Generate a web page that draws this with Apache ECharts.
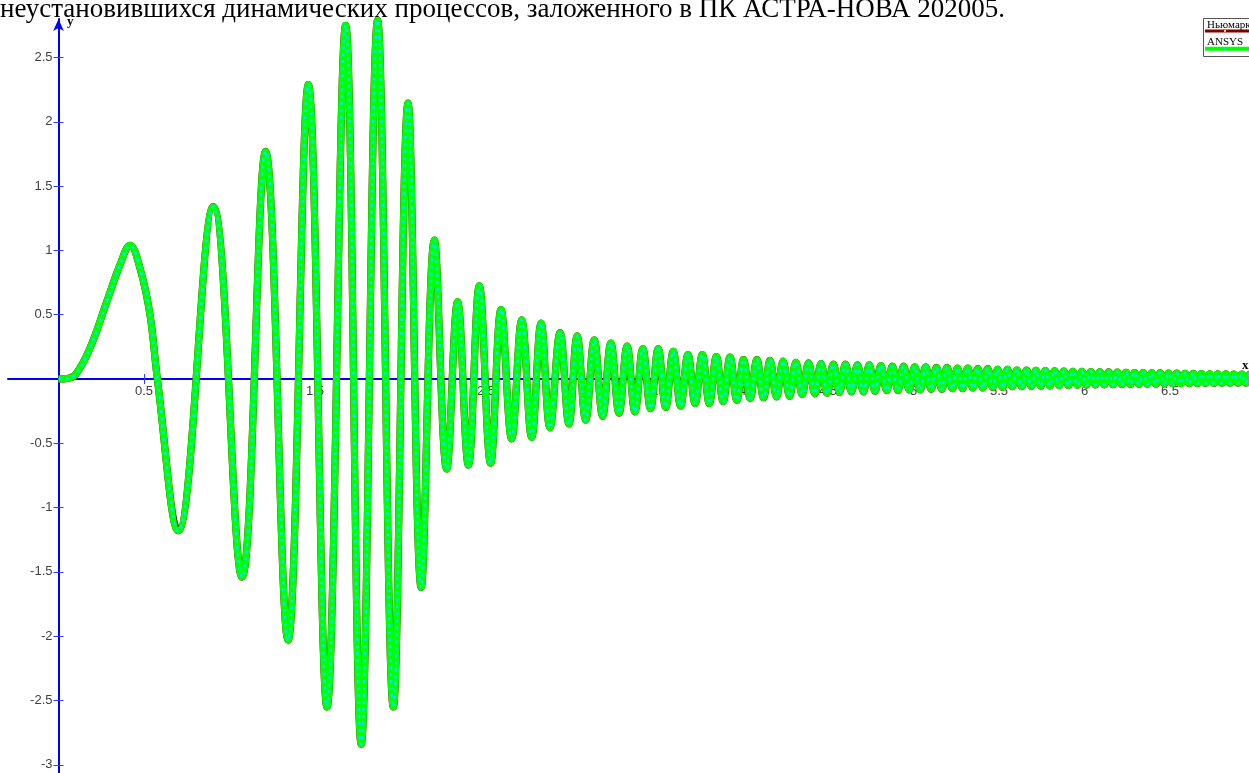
<!DOCTYPE html>
<html>
<head>
<meta charset="utf-8">
<script src="https://cdn.jsdelivr.net/npm/echarts@6/dist/echarts.min.js"></script>
<style>
  html, body { margin: 0; padding: 0; background: #ffffff; }
  #chart { width: 1249px; height: 773px; }
</style>
</head>
<body>
<div id="chart"></div>
<script>
// Time, s
const timeSec = [
  0, 0.05, 0.1, 0.184, 0.282, 0.36, 0.418, 0.477, 0.535, 0.578,
  0.699, 0.905, 1.073, 1.211, 1.342, 1.461, 1.570, 1.679, 1.770, 1.866,
  1.958, 2.044, 2.121, 2.198, 2.270, 2.334, 2.397, 2.461, 2.527, 2.588,
  2.650, 2.709, 2.767, 2.822, 2.874, 2.933, 2.985, 3.033, 3.083, 3.133,
  3.182, 3.230, 3.278, 3.325, 3.371, 3.417, 3.462, 3.507, 3.551, 3.595,
  3.638, 3.681, 3.723, 3.765, 3.806, 3.847, 3.887, 3.927, 3.967, 4.006,
  4.045, 4.084, 4.123, 4.161, 4.199, 4.237, 4.275, 4.312, 4.349, 4.386,
  4.423, 4.459, 4.495, 4.531, 4.567, 4.602, 4.637, 4.672, 4.707, 4.741,
  4.775, 4.809, 4.843, 4.876, 4.909, 4.942, 4.975, 5.007, 5.039, 5.071,
  5.103, 5.134, 5.165, 5.196, 5.227, 5.257, 5.287, 5.317, 5.347, 5.376,
  5.405, 5.434, 5.463, 5.492, 5.521, 5.549, 5.577, 5.605, 5.633, 5.661,
  5.689, 5.716, 5.744, 5.771, 5.798, 5.825, 5.852, 5.879, 5.906, 5.932,
  5.959, 5.985, 6.011, 6.037, 6.063, 6.089, 6.115, 6.141, 6.167, 6.192,
  6.218, 6.243, 6.268, 6.293, 6.318, 6.343, 6.368, 6.393, 6.418, 6.442,
  6.467, 6.491, 6.516, 6.540, 6.564, 6.588, 6.612, 6.636, 6.660, 6.684,
  6.708, 6.732, 6.756, 6.779, 6.803, 6.826, 6.850, 6.873, 6.897, 6.920,
  6.944, 6.967, 6.990
];

// Displacement response (both solvers coincide at this scale)
const displacement = [
  0, 0.004, 0.035, 0.24, 0.6, 0.89, 1.04, 0.86, 0.5, 0,
  -1.18, 1.34, -1.54, 1.77, -2.03, 2.29, -2.55, 2.75, -2.84, 2.79,
  -2.55, 2.145, -1.62, 1.08, -0.70, 0.60, -0.67, 0.725, -0.655, 0.54,
  -0.465, 0.46, -0.455, 0.435, -0.38, 0.36, -0.35, 0.335, -0.32, 0.305,
  -0.29, 0.28, -0.265, 0.255, -0.255, 0.235, -0.23, 0.235, -0.22, 0.215,
  -0.21, 0.19, -0.19, 0.19, -0.19, 0.175, -0.175, 0.17, -0.165, 0.15,
  -0.15, 0.15, -0.145, 0.145, -0.14, 0.14, -0.135, 0.13, -0.12, 0.125,
  -0.115, 0.12, -0.11, 0.115, -0.105, 0.115, -0.10, 0.11, -0.10, 0.11,
  -0.095, 0.105, -0.09, 0.10, -0.09, 0.10, -0.085, 0.095, -0.085, 0.095,
  -0.08, 0.09, -0.08, 0.09, -0.075, 0.085, -0.075, 0.085, -0.07, 0.08,
  -0.07, 0.08, -0.065, 0.075, -0.065, 0.075, -0.06, 0.07, -0.06, 0.07,
  -0.058, 0.068, -0.056, 0.066, -0.054, 0.064, -0.052, 0.062, -0.05, 0.06,
  -0.048, 0.06, -0.047, 0.058, -0.046, 0.056, -0.045, 0.055, -0.044, 0.054,
  -0.043, 0.052, -0.042, 0.05, -0.041, 0.05, -0.04, 0.048, -0.039, 0.047,
  -0.038, 0.046, -0.037, 0.045, -0.036, 0.044, -0.035, 0.043, -0.035, 0.042,
  -0.034, 0.041, -0.034, 0.04, -0.033, 0.04, -0.033, 0.039, -0.032, 0.038,
  -0.032, 0.038, -0.031
];

const xTicks = [0.5, 1, 1.5, 2, 2.5, 3, 3.5, 4, 4.5, 5, 5.5, 6, 6.5];
const yTicks = [-3, -2.5, -2, -1.5, -1, -0.5, 0.5, 1, 1.5, 2, 2.5];
const seriesNames = ['Ньюмарк', 'ANSYS'];
const headerText = 'неустановившихся динамических процессов, заложенного в ПК АСТРА-НОВА 202005.';

const points = timeSec.map((t, i) => [t, displacement[i]]);

const AXIS_BLUE = '#0000ff';
const TICK_BLUE = '#3a3aff';
const labelStyle = { color: '#404040', fontFamily: '"Liberation Sans", Arial, sans-serif', fontSize: 13 };

// plotting window (grid: left 8, top 19, 1244 x 754 px)
const grid = { left: 8, top: 19, width: 1244, height: 754 };
const xRange = { min: -0.2953, max: 6.9795 };
const yRange = { min: -3.0638, max: 2.7994 };

// the axes cross at the origin: shift each axis from its grid edge to the zero line
const toPxX = v => grid.left + (v - xRange.min) / (xRange.max - xRange.min) * grid.width;
const toPxY = v => grid.top + (yRange.max - v) / (yRange.max - yRange.min) * grid.height;
const zeroX = toPxX(0);
const zeroY = toPxY(0);
const offLeft = -(zeroX - grid.left);
const offRight = -(grid.left + grid.width - zeroX);
const offBottom = -(grid.top + grid.height - zeroY);
const offTop = -(zeroY - grid.top);

const chart = echarts.init(document.getElementById('chart'), null, { renderer: 'canvas' });

chart.setOption({
  animation: false,
  backgroundColor: '#ffffff',
  grid: Object.assign({ outerBoundsMode: 'none', containLabel: false }, grid),
  xAxis: [
    {
      type: 'value', position: 'bottom', offset: offBottom, min: xRange.min, max: xRange.max,
      axisLine: { onZero: false, symbol: ['none', 'arrow'], symbolSize: [8, 12],
                  lineStyle: { color: AXIS_BLUE, width: 2 } },
      axisTick: { customValues: xTicks, length: 5, lineStyle: { color: TICK_BLUE, width: 1 } },
      axisLabel: Object.assign({ customValues: xTicks, margin: 6 }, labelStyle),
      splitLine: { show: false }
    },
    {
      type: 'value', position: 'top', offset: offTop, min: xRange.min, max: xRange.max,
      axisLine: { onZero: false, show: false },
      axisTick: { customValues: xTicks, length: 5, lineStyle: { color: TICK_BLUE, width: 1 } },
      axisLabel: { show: false },
      splitLine: { show: false }
    }
  ],
  yAxis: [
    {
      type: 'value', position: 'left', offset: offLeft, min: yRange.min, max: yRange.max,
      axisLine: { onZero: false, symbol: ['none', 'arrow'], symbolSize: [8, 12],
                  lineStyle: { color: AXIS_BLUE, width: 2 } },
      axisTick: { customValues: yTicks, length: 5, lineStyle: { color: TICK_BLUE, width: 1 } },
      axisLabel: Object.assign({ customValues: yTicks, margin: 6 }, labelStyle),
      splitLine: { show: false }
    },
    {
      type: 'value', position: 'right', offset: offRight, min: yRange.min, max: yRange.max,
      axisLine: { onZero: false, show: false },
      axisTick: { customValues: yTicks, length: 5, lineStyle: { color: TICK_BLUE, width: 1 } },
      axisLabel: { show: false },
      splitLine: { show: false }
    }
  ],
  series: [
    {
      name: seriesNames[0], type: 'line', data: points, smooth: 0.4, clip: false,
      showSymbol: false, z: 2,
      lineStyle: { color: '#800000', width: 7.2 }
    },
    {
      name: seriesNames[1], type: 'line', data: points, smooth: 0.4, clip: false,
      showSymbol: false, z: 3,
      lineStyle: { color: '#00ff00', width: 7 }
    },
    {
      // sample markers of the ANSYS curve
      name: seriesNames[1] + ' ', type: 'line', data: points, smooth: 0.4, clip: false,
      showSymbol: false, z: 4,
      lineStyle: { color: '#00eaea', width: 2.5, type: [3, 4] }
    }
  ],
  graphic: [
    {
      type: 'text', z: 10,
      style: { text: headerText, x: 0, y: 10, font: '27px "Liberation Serif", "Times New Roman", serif',
               fill: '#000000', textVerticalAlign: 'middle', verticalAlign: 'middle' }
    },
    {
      type: 'text', z: 10,
      style: { text: 'y', x: 67, y: 22, font: 'bold 13px "Liberation Serif", serif',
               fill: '#000000', textVerticalAlign: 'middle', verticalAlign: 'middle' }
    },
    {
      type: 'text', z: 10,
      style: { text: 'x', x: 1242, y: 366, font: 'bold 13px "Liberation Serif", serif',
               fill: '#000000', textVerticalAlign: 'middle', verticalAlign: 'middle' }
    },
    // legend box
    {
      type: 'rect', z: 10,
      shape: { x: 1203.5, y: 18.5, width: 60, height: 38 },
      style: { fill: '#ffffff', stroke: '#555555', lineWidth: 1 }
    },
    {
      type: 'text', z: 11,
      style: { text: seriesNames[0], x: 1207, y: 25.5, font: '11px "Liberation Serif", serif',
               fill: '#000000', textVerticalAlign: 'middle', verticalAlign: 'middle' }
    },
    {
      type: 'line', z: 11,
      shape: { x1: 1205, y1: 31, x2: 1249, y2: 31 },
      style: { stroke: '#800000', lineWidth: 3 }
    },
    {
      type: 'rect', z: 12,
      shape: { x: 1224, y: 30, width: 2, height: 2 },
      style: { fill: '#ffd700' }
    },
    {
      type: 'text', z: 11,
      style: { text: seriesNames[1], x: 1207, y: 42, font: '11px "Liberation Serif", serif',
               fill: '#000000', textVerticalAlign: 'middle', verticalAlign: 'middle' }
    },
    {
      type: 'line', z: 11,
      shape: { x1: 1205, y1: 48.7, x2: 1249, y2: 48.7 },
      style: { stroke: '#00ff00', lineWidth: 4 }
    },
    {
      type: 'rect', z: 12,
      shape: { x: 1224, y: 47.7, width: 2, height: 2 },
      style: { fill: '#00e0e0' }
    }
  ]
});
</script>
</body>
</html>
